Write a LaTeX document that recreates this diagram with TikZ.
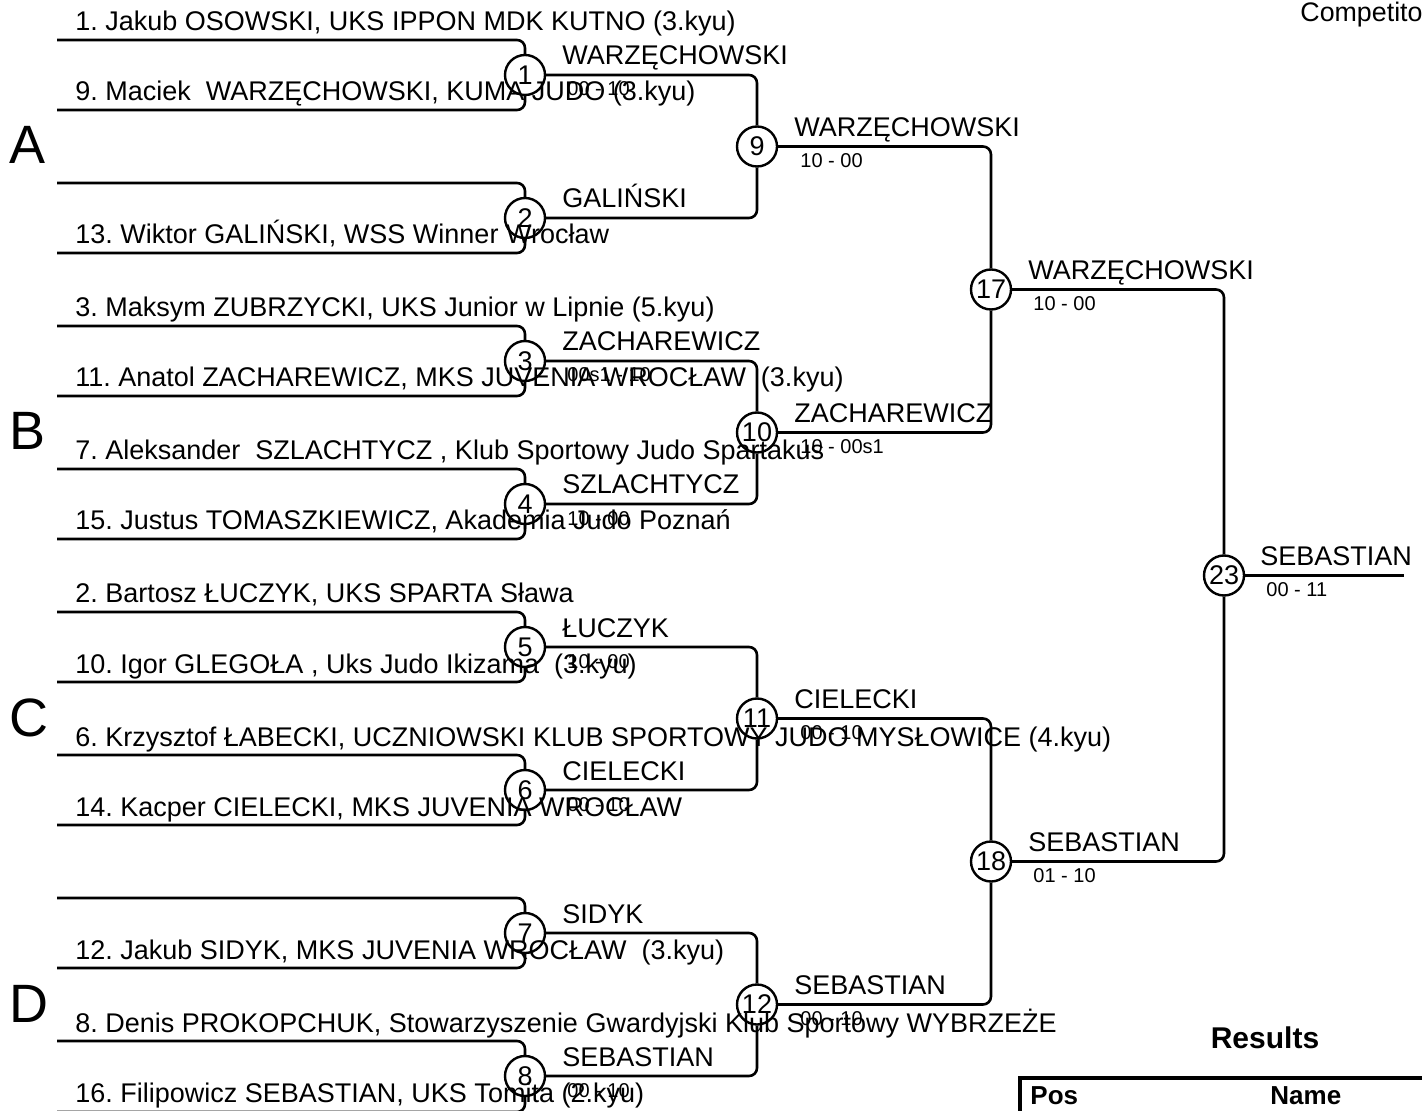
\documentclass[tikz,border=0pt]{standalone}
\usepackage{fontspec}
\setmainfont{Liberation Sans}
\frenchspacing
\begin{document}
\begin{tikzpicture}[x=0.5pt,y=0.5pt,
	match/.style={draw,circle,line width=1.2pt,minimum size=20pt,font=\fontsize{13.5}{16}\selectfont},
	bline/.style={line width=1.3pt,rounded corners=4pt},
	cname/.style={anchor=base west,font=\fontsize{13.5}{16}\selectfont},
	winner/.style={anchor=base west,font=\fontsize{13.5}{16}\selectfont},
	score/.style={anchor=base west,font=\fontsize{10}{12}\selectfont},
	pool/.style={anchor=base west,font=\fontsize{27}{32}\selectfont}]
	\tikzstyle{every node}+=[inner sep=0pt]
	\useasboundingbox (0,0) rectangle (1422,-1111);
	% pools
	\node [pool] (pA) at (9,-164) {A};
	\node [pool] (pB) at (9,-450) {B};
	\node [pool] (pC) at (9,-736) {C};
	\node [pool] (pD) at (9,-1022) {D};
	% first round
	\node [match] (m1) at (525,-75) {1};
	\node [match] (m2) at (525,-218) {2};
	\node [match] (m3) at (525,-361) {3};
	\node [match] (m4) at (525,-504) {4};
	\node [match] (m5) at (525,-647) {5};
	\node [match] (m6) at (525,-790) {6};
	\node [match] (m7) at (525,-933) {7};
	\node [match] (m8) at (525,-1076) {8};
	\coordinate (t1) at (57,-40);   \coordinate (b1) at (57,-110);
	\coordinate (t2) at (57,-183);  \coordinate (b2) at (57,-253);
	\coordinate (t3) at (57,-326);  \coordinate (b3) at (57,-396);
	\coordinate (t4) at (57,-469);  \coordinate (b4) at (57,-539);
	\coordinate (t5) at (57,-612);  \coordinate (b5) at (57,-682);
	\coordinate (t6) at (57,-755);  \coordinate (b6) at (57,-825);
	\coordinate (t7) at (57,-898);  \coordinate (b7) at (57,-968);
	\coordinate (t8) at (57,-1041); \coordinate (b8) at (57,-1112);
	\draw [bline] (t1) -| (m1.north);  \draw [bline] (b1) -| (m1.south);
	\draw [bline] (t2) -| (m2.north);  \draw [bline] (b2) -| (m2.south);
	\draw [bline] (t3) -| (m3.north);  \draw [bline] (b3) -| (m3.south);
	\draw [bline] (t4) -| (m4.north);  \draw [bline] (b4) -| (m4.south);
	\draw [bline] (t5) -| (m5.north);  \draw [bline] (b5) -| (m5.south);
	\draw [bline] (t6) -| (m6.north);  \draw [bline] (b6) -| (m6.south);
	\draw [bline] (t7) -| (m7.north);  \draw [bline] (b7) -| (m7.south);
	\draw [bline] (t8) -| (m8.north);  \draw [bline] (b8) -| (m8.south);
	% competitors
	\node [cname] (n1) at (75,-31) {1. Jakub OSOWSKI, UKS IPPON MDK KUTNO (3.kyu)};
	\node [cname] (n9) at (75,-101) {9. Maciek\ \ WARZĘCHOWSKI, KUMA JUDO (3.kyu)};
	\node [cname] (n13) at (75,-244) {13. Wiktor GALIŃSKI, WSS Winner Wrocław};
	\node [cname] (n3) at (75,-317) {3. Maksym ZUBRZYCKI, UKS Junior w Lipnie (5.kyu)};
	\node [cname] (n11) at (75,-387) {11. Anatol ZACHAREWICZ, MKS JUVENIA WROCŁAW\ \ (3.kyu)};
	\node [cname] (n7) at (75,-460) {7. Aleksander\ \ SZLACHTYCZ , Klub Sportowy Judo Spartakus};
	\node [cname] (n15) at (75,-530) {15. Justus TOMASZKIEWICZ, Akademia Judo Poznań};
	\node [cname] (n2) at (75,-603) {2. Bartosz ŁUCZYK, UKS SPARTA Sława};
	\node [cname] (n10) at (75,-673) {10. Igor GLEGOŁA , Uks Judo Ikizama\ \ (3.kyu)};
	\node [cname] (n6) at (75,-746) {6. Krzysztof ŁABECKI, UCZNIOWSKI KLUB SPORTOWY JUDO MYSŁOWICE (4.kyu)};
	\node [cname] (n14) at (75,-816) {14. Kacper CIELECKI, MKS JUVENIA WROCŁAW};
	\node [cname] (n12) at (75,-959) {12. Jakub SIDYK, MKS JUVENIA WROCŁAW\ \ (3.kyu)};
	\node [cname] (n8) at (75,-1032) {8. Denis PROKOPCHUK, Stowarzyszenie Gwardyjski Klub Sportowy WYBRZEŻE};
	\node [cname] (n16) at (75,-1102) {16. Filipowicz SEBASTIAN, UKS Tomita (2.kyu)};
	% first round winners
	\node [winner] (w1) at (562,-65) {WARZĘCHOWSKI};
	\node [score] (s1) at (567,-96) {00 - 10};
	\node [winner] (w2) at (562,-208) {GALIŃSKI};
	\node [winner] (w3) at (562,-351) {ZACHAREWICZ};
	\node [score] (s3) at (567,-382) {00s1 - 10};
	\node [winner] (w4) at (562,-494) {SZLACHTYCZ};
	\node [score] (s4) at (567,-525) {10 - 00};
	\node [winner] (w5) at (562,-637) {ŁUCZYK};
	\node [score] (s5) at (567,-668) {10 - 00};
	\node [winner] (w6) at (562,-780) {CIELECKI};
	\node [score] (s6) at (567,-811) {00 - 10};
	\node [winner] (w7) at (562,-923) {SIDYK};
	\node [winner] (w8) at (562,-1066) {SEBASTIAN};
	\node [score] (s8) at (567,-1097) {00 - 10};
	% second round
	\node [match] (m9) at (757,-146.5) {9};
	\node [match] (m10) at (757,-432.5) {10};
	\node [match] (m11) at (757,-718.5) {11};
	\node [match] (m12) at (757,-1004.5) {12};
	\draw [bline] (m1.east) -| (m9.north);   \draw [bline] (m2.east) -| (m9.south);
	\draw [bline] (m3.east) -| (m10.north);  \draw [bline] (m4.east) -| (m10.south);
	\draw [bline] (m5.east) -| (m11.north);  \draw [bline] (m6.east) -| (m11.south);
	\draw [bline] (m7.east) -| (m12.north);  \draw [bline] (m8.east) -| (m12.south);
	\node [winner] (w9) at (794,-136.5) {WARZĘCHOWSKI};
	\node [score] (s9) at (800,-167.5) {10 - 00};
	\node [winner] (w10) at (794,-422.5) {ZACHAREWICZ};
	\node [score] (s10) at (800,-453.5) {10 - 00s1};
	\node [winner] (w11) at (794,-708.5) {CIELECKI};
	\node [score] (s11) at (800,-739.5) {00 - 10};
	\node [winner] (w12) at (794,-994.5) {SEBASTIAN};
	\node [score] (s12) at (800,-1025.5) {00 - 10};
	% semi finals
	\node [match] (m17) at (991,-289.5) {17};
	\node [match] (m18) at (991,-861.5) {18};
	\draw [bline] (m9.east) -| (m17.north);   \draw [bline] (m10.east) -| (m17.south);
	\draw [bline] (m11.east) -| (m18.north);  \draw [bline] (m12.east) -| (m18.south);
	\node [winner] (w17) at (1028,-279.5) {WARZĘCHOWSKI};
	\node [score] (s17) at (1033,-310.5) {10 - 00};
	\node [winner] (w18) at (1028,-851.5) {SEBASTIAN};
	\node [score] (s18) at (1033,-882.5) {01 - 10};
	% final
	\node [match] (m23) at (1224,-575.5) {23};
	\draw [bline] (m17.east) -| (m23.north);  \draw [bline] (m18.east) -| (m23.south);
	\coordinate (fin) at (1404,-575.5);
	\draw [bline] (m23.east) -- (fin);
	\node [winner] (w23) at (1260,-565.5) {SEBASTIAN};
	\node [score] (s23) at (1266,-596.5) {00 - 11};
	% results
	\node [anchor=base west,font=\fontsize{13.4}{16}\selectfont] (comp) at (1300,-22) {Competitors};
	\node [anchor=base,font=\fontsize{15}{18}\selectfont\bfseries] (res) at (1265,-1048) {Results};
	\draw [line width=2pt] (1020,-1111) |- (1422,-1078);
	\node [anchor=base west,font=\fontsize{13}{16}\selectfont\bfseries] (pos) at (1030,-1104) {Pos};
	\node [anchor=base west,font=\fontsize{13}{16}\selectfont\bfseries] (nam) at (1270,-1104) {Name};
\end{tikzpicture}
\end{document}
